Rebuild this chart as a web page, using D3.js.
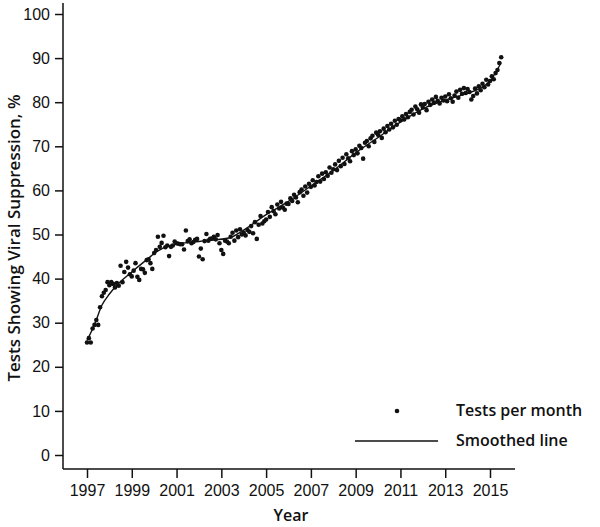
<!DOCTYPE html>
<html>
<head>
<meta charset="utf-8">
<script src="https://cdn.jsdelivr.net/npm/d3@7"></script>
<style>
  body { margin: 0; background: #fff; }
  svg { display: block; font-family: 'Open Sans', sans-serif; }
  .axis text { font-size: 16px; fill: #111; }
  .axis line, .axis path { stroke: #111; stroke-width: 1.5; }
  .title { font-size: 16px; font-weight: 600; fill: #111; }
</style>
</head>
<body>
<svg width="600" height="527"></svg>
<script>
// Monthly share of tests showing viral suppression, from January 1997
var startYear = 1997;
var monthly = [
  25.5, 26.5, 25.5, 28.7, 29.5, 30.6, 29.5, 33.5, 36.0, 36.8, 37.4, 39.2,
  38.5, 39.2, 38.8, 38.0, 39.0, 38.4, 42.9, 39.2, 41.5, 43.8, 42.5, 41.0,
  40.5, 41.8, 43.5, 40.4, 39.7, 42.2, 42.1, 41.3, 44.2, 44.4, 43.5, 42.2,
  45.8, 46.5, 49.5, 47.2, 48.1, 49.7, 47.1, 47.5, 45.1, 47.2, 47.5, 48.4,
  48.0, 47.9, 47.8, 47.8, 46.6, 50.9, 48.5, 48.9, 48.0, 48.3, 48.8, 49.0,
  45.0, 46.8, 44.4, 48.5, 50.1, 48.6, 49.0, 49.1, 49.5, 48.9, 49.9, 48.0,
  46.5, 45.6, 48.6, 48.4, 48.0, 49.5, 50.4, 48.6, 50.9, 49.4, 51.2, 50.0,
  50.4, 49.8, 51.0, 50.6, 51.9, 50.3, 52.8, 49.0, 52.2, 54.2, 52.5, 53.0,
  53.4, 55.1, 54.0, 56.2, 55.3, 54.6, 56.8, 55.9, 57.4, 56.1, 55.6, 57.0,
  56.9, 58.2, 57.6, 59.0, 58.4, 57.3, 59.6, 60.2, 58.8, 60.9, 59.5, 61.5,
  60.8, 62.3, 61.1, 61.9, 63.2, 62.0, 63.8, 62.6, 64.1, 63.3, 65.2, 64.0,
  64.8, 65.9, 64.6, 66.7, 65.5, 67.4, 66.0, 68.2, 67.3, 66.6, 68.9, 68.0,
  69.3, 68.4, 70.1, 69.6, 67.2, 70.8, 71.2, 70.0, 71.8, 72.4, 71.0, 73.1,
  72.6, 73.4, 71.9, 74.0, 73.2, 74.6, 73.8, 75.1, 74.3, 75.8, 74.9, 76.2,
  75.9, 76.8, 76.1, 77.3, 76.6, 77.8, 78.3, 77.2, 79.0, 78.4, 77.6, 79.5,
  78.8, 79.6, 78.2, 80.1, 79.4, 80.6, 79.9, 81.2, 80.3, 79.7, 81.0, 80.4,
  81.3, 80.2, 81.8, 80.9, 80.1, 81.5, 82.4, 81.0, 82.8, 81.9, 83.2, 82.1,
  83.0, 82.3, 80.6, 81.4, 83.1, 82.0, 83.6, 82.7, 84.2, 83.4, 85.1, 84.0,
  84.8, 85.9, 85.2, 86.6, 87.3, 88.9, 90.2
];

// Smoothed line
var smoothYears = [1997, 1997.33, 1997.67, 1998, 1998.33, 1999, 1999.67, 2000.17,
  2000.83, 2001.58, 2002.33, 2003.33, 2004, 2005, 2006, 2007, 2008, 2009, 2010,
  2011, 2012, 2013, 2014, 2014.5, 2015, 2015.5];
var smoothValues = [26, 29.5, 34, 36.5, 38.5, 41.5, 44.3, 46.3,
  47.7, 48.2, 48.6, 49.2, 51, 54.5, 57.5, 61, 64.5, 68.5, 72,
  75.5, 78.5, 80.5, 82, 83, 84.8, 89];

var yearTicks = [1997, 1999, 2001, 2003, 2005, 2007, 2009, 2011, 2013, 2015];
var valueTicks = [0, 10, 20, 30, 40, 50, 60, 70, 80, 90, 100];

var svg = d3.select('svg');

var x = d3.scaleLinear().domain([1997, 2015]).range([87, 490]);
var y = d3.scaleLinear().domain([0, 100]).range([455, 14]);

var axisLeft = 63, axisBottom = 469;

// Points
var points = monthly.map(function (v, i) {
  return { year: startYear + i / 12, value: v };
});

svg.append('g')
  .selectAll('circle')
  .data(points)
  .enter()
  .append('circle')
  .attr('cx', function (d) { return x(d.year); })
  .attr('cy', function (d) { return y(d.value); })
  .attr('r', 2.3)
  .attr('fill', '#111');

// Smoothed line
var line = d3.line()
  .x(function (d) { return x(d[0]); })
  .y(function (d) { return y(d[1]); })
  .curve(d3.curveMonotoneX);

svg.append('path')
  .datum(d3.zip(smoothYears, smoothValues))
  .attr('d', line)
  .attr('fill', 'none')
  .attr('stroke', '#111')
  .attr('stroke-width', 1.4);

// Y axis
var yAxis = svg.append('g')
  .attr('class', 'axis')
  .attr('transform', 'translate(' + axisLeft + ',0)')
  .call(d3.axisLeft(y).tickValues(valueTicks).tickSize(8).tickPadding(5));
yAxis.select('.domain').remove();
yAxis.append('line')
  .attr('x1', 0).attr('x2', 0)
  .attr('y1', 3).attr('y2', axisBottom);

// X axis
var xAxis = svg.append('g')
  .attr('class', 'axis')
  .attr('transform', 'translate(0,' + axisBottom + ')')
  .call(d3.axisBottom(x).tickValues(yearTicks).tickFormat(d3.format('d')).tickSize(9).tickPadding(7));
xAxis.select('.domain').remove();
xAxis.append('line')
  .attr('x1', axisLeft).attr('x2', 515)
  .attr('y1', 0).attr('y2', 0);

// Axis titles
svg.append('text')
  .attr('class', 'title')
  .attr('x', 291)
  .attr('y', 521)
  .attr('text-anchor', 'middle')
  .text('Year');

svg.append('text')
  .attr('class', 'title')
  .style('font-size', '17px')
  .attr('transform', 'translate(20,238) rotate(-90)')
  .attr('text-anchor', 'middle')
  .text('Tests Showing Viral Suppression, %');

// Legend
var legend = svg.append('g');
legend.append('circle')
  .attr('cx', 397).attr('cy', 411).attr('r', 2.3).attr('fill', '#111');
legend.append('text')
  .attr('class', 'title')
  .attr('x', 456).attr('y', 416)
  .text('Tests per month');
legend.append('line')
  .attr('x1', 355).attr('x2', 438)
  .attr('y1', 441).attr('y2', 441)
  .attr('stroke', '#111').attr('stroke-width', 1.4);
legend.append('text')
  .attr('class', 'title')
  .attr('x', 456).attr('y', 446)
  .text('Smoothed line');
</script>
</body>
</html>
